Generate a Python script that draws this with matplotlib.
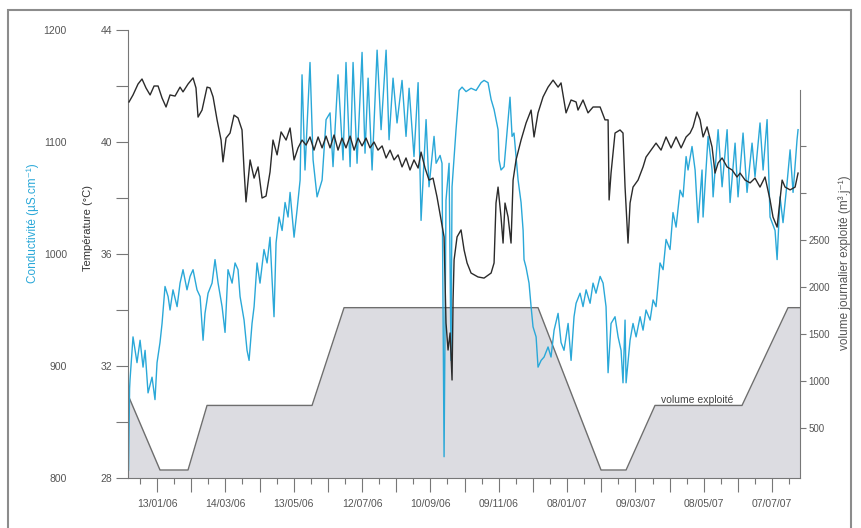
import matplotlib
matplotlib.use("Agg")
import matplotlib.pyplot as plt
from matplotlib.patches import Rectangle

plt.rcParams['font.family'] = ['Liberation Sans', 'DejaVu Sans']

# ---- data (x = days after 13/01/2006) ----
temp_days = [-24.6, -21.1, -16.7, -13.2, -9.7, -6.1, -2.6, 0.9, 4.4, 7.9,
             11.4, 15.8, 20.2, 22.8, 27.2, 31.6, 34.2, 36.0, 39.5, 43.9,
             46.5, 49.2, 52.7, 56.2, 57.9, 60.6, 64.1, 67.6, 71.1, 74.6,
             76.4, 78.1, 81.7, 85.2, 88.7, 92.2, 95.7, 99.2, 101.8, 105.4,
             108.9, 113.3, 116.8, 120.3, 123.8, 127.3, 130.8, 134.3, 137.8, 141.4,
             144.9, 148.4, 151.9, 155.4, 158.9, 162.4, 165.9, 169.5, 173.0, 176.5,
             180.0, 183.5, 187.0, 190.5, 194.0, 197.6, 201.1, 204.6, 208.1, 211.6,
             215.1, 218.6, 222.1, 225.6, 229.2, 231.8, 235.3, 238.8, 242.3, 245.8,
             249.4, 252.0,
             253.7, 255.5, 257.3, 259.0, 259.9,
             260.8, 263.4, 266.9, 269.6, 272.2, 275.7, 281.8, 287.1, 293.3, 295.9,
             297.6, 299.4, 302.0, 303.8, 305.5, 308.2, 310.8, 312.6, 315.2, 319.6,
             324.0, 328.4, 331.0, 334.5, 338.9, 343.3, 347.7, 352.1, 354.7, 359.1,
             363.5, 367.9, 369.6, 374.0, 378.4, 382.8, 389.0, 393.3, 396.0, 396.9,
             398.6, 402.1, 406.5, 409.1, 410.9, 413.5, 415.3, 417.9, 422.3, 426.7,
             429.3, 433.7, 438.1, 442.5, 446.9, 451.3, 455.7, 460.1, 464.5, 468.0,
             470.6, 474.1, 476.8, 479.4, 482.9, 487.3, 489.9, 492.6, 496.1, 500.5,
             504.9, 509.2, 511.9, 516.3, 520.7, 525.0, 529.4, 533.8, 538.2, 540.8,
             544.4, 548.8, 551.4, 555.8, 560.2, 562.8]
temp_vals = [41.43, 41.68, 42.07, 42.25, 41.93, 41.68, 42.0, 42.0, 41.57, 41.25,
             41.68, 41.64, 41.96, 41.79, 42.07, 42.29, 41.93, 40.89, 41.14, 41.96,
             41.93, 41.61, 40.79, 40.07, 39.29, 40.14, 40.32, 40.96, 40.86, 40.43,
             39.0, 37.86, 39.36, 38.71, 39.11, 38.0, 38.07, 38.93, 40.07, 39.54,
             40.36, 40.07, 40.5, 39.36, 39.79, 40.07, 39.89, 40.18, 39.71, 40.18,
             39.79, 40.21, 39.79, 40.25, 39.71, 40.14, 39.79, 40.21, 39.71, 40.14,
             39.86, 40.14, 39.79, 40.0, 39.71, 39.86, 39.43, 39.71, 39.36, 39.54,
             39.11, 39.43, 39.0, 39.36, 39.07, 39.64, 39.07, 38.64, 38.71, 38.04,
             37.21, 36.61,
             33.54, 32.57, 33.18, 31.5, 34.36,
             35.79, 36.61, 36.86, 36.14, 35.68, 35.32, 35.18, 35.14, 35.32, 35.68,
             37.82, 38.39, 37.32, 36.39, 37.82, 37.32, 36.39, 38.64, 39.36, 40.07,
             40.68, 41.14, 40.18, 41.04, 41.61, 41.96, 42.21, 41.96, 42.11, 41.04,
             41.5, 41.43, 41.14, 41.5, 41.04, 41.25, 41.25, 40.79, 40.79, 37.93,
             38.89, 40.32, 40.43, 40.32, 38.39, 36.39, 37.82, 38.39, 38.64, 39.11,
             39.46, 39.71, 39.96, 39.71, 40.18, 39.79, 40.18, 39.79, 40.18, 40.32,
             40.54, 41.07, 40.79, 40.18, 40.54, 39.82, 38.89, 39.25, 39.43, 39.11,
             39.0, 38.75, 38.89, 38.64, 38.54, 38.71, 38.39, 38.75, 37.93, 37.32,
             36.96, 38.64, 38.39, 38.29, 38.39, 38.89]

cond_days = [-25.0, -24.1, -23.7, -21.1, -17.6, -14.9, -12.3, -10.5, -7.9, -4.4,
             -1.8, 0.0, 2.6, 4.4, 7.0, 9.7, 11.4, 14.0, 17.6, 20.2,
             22.8, 26.3, 29.0, 31.6, 35.1, 37.8, 40.4, 42.1, 44.8, 48.3,
             50.9, 53.6, 57.1, 59.7, 62.3, 65.9, 68.5, 71.1, 72.9, 76.4,
             79.0, 80.8, 83.4, 85.2, 87.8, 90.4, 93.9, 96.6, 99.2, 101.0,
             102.7, 104.5, 107.1, 109.8, 112.4, 115.0, 116.8, 120.3, 122.9, 125.6,
             127.3, 129.9, 134.3, 137.0, 140.5, 144.9, 148.4, 151.9, 154.5, 158.9,
             163.3, 165.9, 169.5, 172.1, 175.6, 180.0, 182.6, 185.3, 188.8, 193.2,
             196.7, 201.1, 203.7, 207.2, 210.7, 215.1, 218.6, 221.3, 225.6, 229.2,
             231.8, 236.2, 238.8, 243.2, 245.0, 248.5, 250.2, 252.0, 253.7, 256.4,
             258.1, 259.0, 262.5, 265.2, 267.8, 271.3, 275.7, 280.1, 284.5, 287.1,
             290.6, 293.3, 295.9, 299.4, 300.3, 302.0, 304.7, 308.2, 309.9, 311.7,
             313.4, 317.0, 319.6, 321.4, 322.2, 324.0, 326.6, 328.4, 330.1, 332.8,
             334.5, 337.2, 339.8, 343.3, 345.9, 348.6, 352.1, 354.7, 357.3, 360.9,
             363.5, 366.1, 367.9, 371.4, 374.0, 376.7, 380.2, 382.8, 385.4, 389.0,
             391.6, 394.2, 396.0, 398.6, 402.1, 404.8, 407.4, 409.1, 410.9, 411.8,
             415.3, 417.9, 420.6, 424.1, 426.7, 429.3, 432.9, 435.5, 438.1, 441.6,
             444.3, 446.9, 450.4, 453.0, 455.7, 459.2, 461.8, 464.5, 466.2, 469.7,
             472.4, 475.0, 478.5, 479.4, 483.8, 487.3, 488.2, 492.6, 496.1, 500.5,
             503.1, 507.5, 510.1, 514.5, 518.0, 522.4, 525.0, 529.4, 532.1, 535.6,
             538.2, 542.6, 544.4, 547.0, 549.6, 553.1, 555.8, 558.4, 561.9, 562.8]
cond_vals = [807, 880, 888, 926, 903, 923, 899, 914, 876, 890,
             870, 903, 921, 938, 971, 962, 950, 968, 953, 974,
             986, 968, 980, 986, 968, 962, 923, 947, 965, 974,
             995, 974, 953, 930, 986, 974, 992, 986, 962, 941,
             914, 905, 938, 953, 992, 974, 1004, 992, 1015, 977,
             944, 1010, 1033, 1021, 1046, 1033, 1055, 1015, 1039, 1066,
             1160, 1075, 1171, 1084, 1051, 1066, 1120, 1126, 1078, 1160,
             1084, 1171, 1078, 1171, 1081, 1180, 1090, 1157, 1075, 1182,
             1111, 1182, 1102, 1157, 1117, 1155, 1105, 1148, 1087, 1153,
             1030, 1120, 1060, 1105, 1081, 1088, 1081, 819, 1048, 1081,
             905, 1060, 1111, 1146, 1149, 1145, 1148, 1146, 1153, 1155,
             1153, 1138, 1129, 1111, 1084, 1075, 1078, 1120, 1140, 1105,
             1108, 1066, 1046, 1021, 995, 988, 974, 953, 935, 926,
             899, 905, 908, 917, 908, 932, 947, 921, 914, 938,
             905, 944, 956, 965, 953, 968, 956, 974, 965, 980,
             974, 953, 894, 938, 944, 926, 914, 885, 941, 885,
             923, 938, 926, 944, 932, 950, 941, 959, 953, 992,
             986, 1013, 1004, 1037, 1024, 1057, 1051, 1087, 1075, 1096,
             1075, 1028, 1075, 1033, 1105, 1075, 1051, 1111, 1060, 1111,
             1046, 1099, 1051, 1108, 1055, 1099, 1069, 1117, 1075, 1120,
             1033, 1021, 995, 1051, 1028, 1063, 1093, 1055, 1102, 1111]

vol_days = [-25.5, 2.6, 27.2, 43.9, 136.1, 164.2, 334.5, 389.8, 411.8, 437.2, 513.6, 554.0, 564.5]
vol_vals = [851, 53, 53, 740, 740, 1780, 1780, 53, 53, 740, 740, 1780, 1780]

date_labels = ["13/01/06", "14/03/06", "13/05/06", "12/07/06", "10/09/06",
               "09/11/06", "08/01/07", "09/03/07", "08/05/07", "07/07/07"]
temp_ticks = [28, 32, 36, 40, 44]
cond_ticks = [800, 900, 1000, 1100, 1200]
vol_ticks = [500, 1000, 1500, 2000, 2500]

# ---- figure ----
W, H = 861, 528
fig = plt.figure(figsize=(W / 100, H / 100), dpi=100)
rect = [128 / W, 1 - 478 / H, (800 - 128) / W, (478 - 30) / H]
ax_v = fig.add_axes(rect)
ax_c = fig.add_axes(rect, sharex=ax_v)
ax_t = fig.add_axes(rect, sharex=ax_v)
for a in (ax_c, ax_t):
    a.patch.set_visible(False)

TICK = '#777777'
LAB = '#555555'
CYAN = '#2aa8d8'

# volume area
ax_v.fill_between(vol_days, vol_vals, -100, color='#dcdce1', lw=0, zorder=1)
ax_v.plot(vol_days, vol_vals, color='#6e6e6e', lw=1.0, zorder=2)
ax_v.set_ylim(-32, 4734)
ax_v.set_xlim(-25.5, 564.5)
for s in ('top', 'left'):
    ax_v.spines[s].set_visible(False)
ax_v.spines['right'].set_bounds(-32, 4100)
ax_v.spines['right'].set_color(TICK)
ax_v.spines['bottom'].set_color(TICK)
ax_v.yaxis.tick_right()
ax_v.set_yticks(vol_ticks + [3000, 3500])
ax_v.set_yticklabels([str(v) for v in vol_ticks] + ['', ''])
ax_v.tick_params(axis='y', length=4, width=0.8, pad=2, labelsize=7, color=TICK, labelcolor=LAB)
ax_v.text(474, 745, 'volume exploité', ha='center', va='bottom', fontsize=7.5, color='#444444')

major = list(range(0, 541, 30))
ax_v.set_xticks(major)
ax_v.set_xticklabels([date_labels[i // 2] if i % 2 == 0 else '' for i in range(len(major))])
ax_v.set_xticks(list(range(-15, 556, 30)), minor=True)
ax_v.tick_params(axis='x', which='major', length=10, width=0.8, pad=5, labelsize=7.5, color=TICK, labelcolor=LAB)
ax_v.tick_params(axis='x', which='minor', length=4.5, width=0.8, color=TICK)

# conductivity
ax_c.plot(cond_days, cond_vals, color=CYAN, lw=1.0, zorder=3)
ax_c.set_ylim(800, 1200)
for s in ax_c.spines.values():
    s.set_visible(False)
ax_c.set_yticks(cond_ticks)
ax_c.tick_params(axis='y', length=0, pad=44, labelsize=7.5, labelcolor=LAB)
ax_c.tick_params(axis='x', which='both', bottom=False, labelbottom=False)

# temperature
ax_t.plot(temp_days, temp_vals, color='#2b2b2b', lw=1.0, zorder=4)
ax_t.set_ylim(28, 44)
for s in ('top', 'right', 'bottom'):
    ax_t.spines[s].set_visible(False)
ax_t.spines['left'].set_color(TICK)
ax_t.set_yticks(temp_ticks)
ax_t.set_yticks([30, 34, 38, 42], minor=True)
ax_t.tick_params(axis='y', which='both', length=8.6, width=0.8, pad=3, labelsize=7.5, color=TICK, labelcolor=LAB)
ax_t.tick_params(axis='x', which='both', bottom=False, labelbottom=False)

# axis titles
fig.text(33 / W, 1 - 223 / H, 'Conductivité (µS.cm⁻¹)', rotation=90, color=CYAN,
         ha='center', va='center', fontsize=8.5)
fig.text(88 / W, 1 - 228 / H, 'Température (°C)', rotation=90, color='#333333',
         ha='center', va='center', fontsize=8)
fig.text(845 / W, 1 - 263 / H, 'volume journalier exploité (m³.j⁻¹)', rotation=90, color='#555555',
         ha='center', va='center', fontsize=8.5)

# outer frame
fig.add_artist(Rectangle((8 / W, -0.05), (851 - 8) / W, (1 - 10 / H) + 0.05, fill=False,
                         edgecolor='#8c8c8c', lw=1.5, transform=fig.transFigure))

fig.savefig('out.png', dpi=100)
